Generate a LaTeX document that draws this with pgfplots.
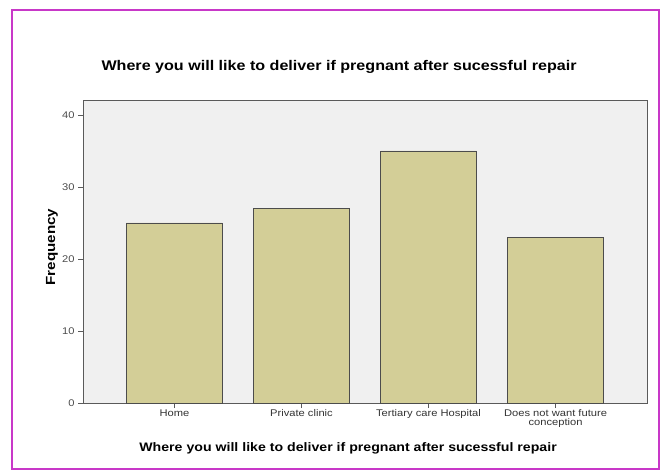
\documentclass[border=0pt]{standalone}
\usepackage{fontspec}
\setmainfont{Liberation Sans}[FakeStretch=1.15]
\usepackage{pgfplots}
\pgfplotsset{compat=1.18}
\definecolor{barfill}{HTML}{D3CE97}
\definecolor{bgfill}{HTML}{F0F0F0}
\definecolor{axcol}{HTML}{5A5A5A}
\definecolor{framecol}{HTML}{C838C8}
\begin{document}
\begin{tikzpicture}
\useasboundingbox (0,0) rectangle (661pt,472pt);
\draw[framecol, line width=1.5pt] (12pt,3pt) rectangle (659pt,462pt);
\begin{axis}[
  at={(83pt,69pt)}, anchor=south west,
  scale only axis, width=564pt, height=303pt,
  xmin=-0.72, xmax=3.72, ymin=0, ymax=42.08,
  ybar, bar width=0.756, bar shift=0pt,
  axis background/.style={fill=bgfill},
  axis line style={axcol, line width=0.9pt},
  /pgf/number format/assume math mode=true,
  xtick=data,
  xticklabels={Home, Private clinic, Tertiary care Hospital, {Does not want future\\conception}},
  xticklabel style={align=center, font=\fontsize{9.7}{9}\selectfont, text=black!80, inner sep=1.5pt},
  yticklabel style={font=\fontsize{9.7}{11}\selectfont, text=black!70},
  ytick={0,10,20,30,40},
  tick align=outside, major tick length=5pt,
  tick style={axcol, line width=0.9pt},
  xtick pos=bottom, ytick pos=left,
  title={Where you will like to deliver if pregnant after sucessful repair},
  title style={at={(axis description cs:0.454,1.09)}, anchor=center, font=\bfseries\fontsize{14}{16}\selectfont},
  xlabel={Where you will like to deliver if pregnant after sucessful repair},
  xlabel style={at={(axis description cs:0.47,-0.15)}, anchor=center, font=\bfseries\fontsize{12.3}{14}\selectfont},
  ylabel={Frequency},
  ylabel style={at={(axis description cs:-0.055,0.515)}, anchor=center, rotate=0, font=\bfseries\fontsize{13.2}{14}\selectfont},
]
\addplot[fill=barfill, draw=black!70, line width=0.8pt] coordinates {(0,25) (1,27) (2,35) (3,23)};
\end{axis}
\end{tikzpicture}
\end{document}
